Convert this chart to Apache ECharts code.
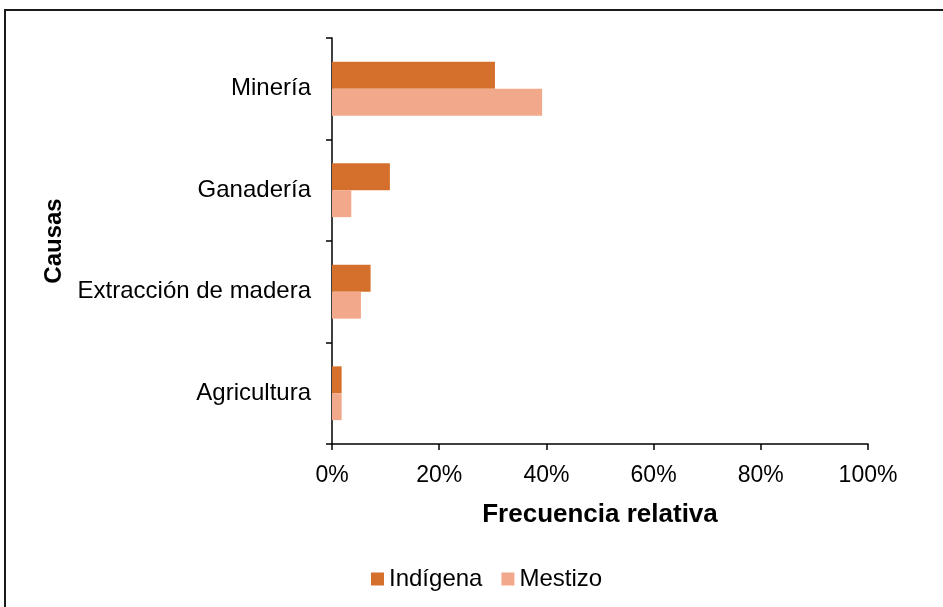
<!DOCTYPE html>
<html>
<head>
<meta charset="utf-8">
<script src="https://cdn.jsdelivr.net/npm/echarts@6/dist/echarts.min.js"></script>
<style>
  html, body { margin: 0; padding: 0; background: #fff; }
  #chart { width: 943px; height: 607px; }
</style>
</head>
<body>
<div id="chart"></div>
<script>
// Causes, listed top to bottom
const categories = ['Minería', 'Ganadería', 'Extracción de madera', 'Agricultura'];
// Relative frequency (%) per group
const indigena = [30.4, 10.8, 7.2, 1.8];
const mestizo = [39.2, 3.6, 5.4, 1.8];
const seriesNames = ['Indígena', 'Mestizo'];
const xTicks = { min: 0, max: 100, interval: 20 };

const FONT = 'Liberation Sans, Arial, sans-serif';
const chart = echarts.init(document.getElementById('chart'));

chart.setOption({
  backgroundColor: '#ffffff',
  animation: false,
  textStyle: { fontFamily: FONT, color: '#000' },
  graphic: [{
    type: 'rect',
    shape: { x: 5, y: 10, width: 1000, height: 700 },
    style: { fill: 'none', stroke: '#1a1a1a', lineWidth: 2 },
    silent: true
  }],
  grid: { left: 332, right: 75, top: 38, bottom: 163, containLabel: false },
  legend: {
    data: seriesNames,
    left: 366,
    top: 562,
    icon: 'rect',
    itemWidth: 13,
    itemHeight: 13,
    itemGap: 19,
    textStyle: { fontFamily: FONT, fontSize: 24, color: '#000', padding: [0, 0, 0, 0] }
  },
  xAxis: {
    type: 'value',
    min: xTicks.min,
    max: xTicks.max,
    interval: xTicks.interval,
    name: 'Frecuencia relativa',
    nameLocation: 'middle',
    nameGap: 58,
    nameTextStyle: { fontFamily: FONT, fontSize: 26, fontWeight: 'bold', color: '#000' },
    axisLine: { show: true, lineStyle: { color: '#000', width: 1.5 } },
    axisTick: { show: true, length: 6, lineStyle: { color: '#000', width: 1.5 } },
    axisLabel: { formatter: '{value}%', fontFamily: FONT, fontSize: 23, color: '#000', margin: 20 },
    splitLine: { show: false }
  },
  yAxis: {
    type: 'category',
    data: categories,
    inverse: true,
    name: 'Causas',
    nameLocation: 'middle',
    nameRotate: 90,
    nameGap: 261,
    nameTextStyle: { fontFamily: FONT, fontSize: 24, fontWeight: 'bold', color: '#000' },
    axisLine: { show: true, lineStyle: { color: '#000', width: 1.5 } },
    axisTick: { show: true, length: 6, alignWithLabel: false, lineStyle: { color: '#000', width: 1.5 } },
    axisLabel: { fontFamily: FONT, fontSize: 24, color: '#000', margin: 21 }
  },
  series: [
    {
      name: seriesNames[0],
      type: 'bar',
      data: indigena,
      barGap: '0%',
      barCategoryGap: '47%',
      itemStyle: { color: '#D4702C' }
    },
    {
      name: seriesNames[1],
      type: 'bar',
      data: mestizo,
      barGap: '0%',
      barCategoryGap: '47%',
      itemStyle: { color: '#F2A98B' }
    }
  ]
});
</script>
</body>
</html>
